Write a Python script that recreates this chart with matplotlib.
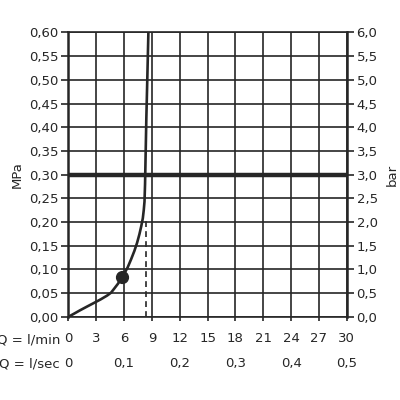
import matplotlib
matplotlib.use("Agg")
from matplotlib import pyplot as plt
from matplotlib import transforms

## Data ##
# flow in l/min and pressure in MPa along the curve
flow_lmin = [0, 0.6, 1.28, 2.0, 2.73, 3.5, 4.19, 4.6, 4.92, 5.35, 5.76, 6.1, 6.38, 6.75, 7.11, 7.4, 7.65, 7.85, 8.02, 8.12, 8.2, 8.26, 8.32, 8.4, 8.5, 8.62]
pressure_mpa = [0, 0.0065, 0.014, 0.0215, 0.029, 0.037, 0.045, 0.051, 0.059, 0.070, 0.083, 0.094, 0.104, 0.121, 0.139, 0.156, 0.174, 0.191, 0.208, 0.225, 0.243, 0.280, 0.340, 0.420, 0.500, 0.600]
# operating point marker
dot_flow = 5.76
dot_pressure = 0.083
# dashed line for the nominal flow
dash_flow = 8.32
dash_top = 0.21
# thick reference line at the rated pressure
ref_pressure = 0.30

lmin_ticks = [0, 3, 6, 9, 12, 15, 18, 21, 24, 27, 30]
lsec_ticks = [0, 0.1, 0.2, 0.3, 0.4, 0.5]
mpa_ticks = [i * 0.05 for i in range(13)]
bar_ticks = [i * 0.5 for i in range(13)]

INK = "#262626"
FS = 9.5

def comma(v, nd):
    return f"{v:.{nd}f}".replace(".", ",")

fig = plt.figure(figsize=(4, 4), dpi=100)
ax = fig.add_axes([0.171, 0.208, 0.696, 0.711])

ax.set_xlim(0, 30)
ax.set_ylim(0, 0.60)

# grid
for x in lmin_ticks:
    ax.axvline(x, color=INK, lw=1.2, zorder=1)
for y in mpa_ticks:
    ax.axhline(y, color=INK, lw=1.2, zorder=1)

ax.axhline(ref_pressure, color=INK, lw=3.2, zorder=2)
ax.plot([dash_flow, dash_flow], [0, dash_top], color=INK, lw=1.2, ls=(0, (3.5, 2.5)), zorder=2)
ax.plot(flow_lmin, pressure_mpa, color=INK, lw=1.9, zorder=3,
        solid_capstyle="round", solid_joinstyle="round")
ax.plot([dot_flow], [dot_pressure], "o", color=INK, ms=8.5, zorder=4)

for s in ax.spines.values():
    s.set_color(INK)
    s.set_linewidth(1.2)
ax.spines["left"].set_linewidth(1.8)
ax.spines["right"].set_linewidth(1.8)

ax.set_yticks(mpa_ticks)
ax.set_yticklabels([comma(v, 2) for v in mpa_ticks], fontsize=FS, color=INK)
ax.set_xticks(lmin_ticks)
ax.set_xticklabels([str(v) for v in lmin_ticks], fontsize=FS, color=INK)
ax.tick_params(axis="y", length=5, width=1.2, color=INK, pad=2)
ax.tick_params(axis="x", length=3, width=1.2, color=INK, pad=8)
ax.set_ylabel("MPa", fontsize=FS, color=INK, labelpad=4)

ax2 = ax.twinx()
ax2.set_ylim(0, 6.0)
ax2.set_yticks(bar_ticks)
ax2.set_yticklabels([comma(v, 1) for v in bar_ticks], fontsize=FS, color=INK)
ax2.tick_params(axis="y", length=5, width=1.2, color=INK, pad=2)
for s in ax2.spines.values():
    s.set_visible(False)
ax2.set_ylabel("bar", fontsize=FS, color=INK, rotation=90, labelpad=6)

# second row of flow labels (l/sec)
trans = transforms.blended_transform_factory(ax.transData, ax.transAxes)
for v in lsec_ticks:
    lab = "0" if v == 0 else comma(v, 1)
    ax.text(v * 60, -0.165, lab, transform=trans, ha="center", va="center", fontsize=FS, color=INK)

ax.text(-0.03, -0.083, "Q = l/min", transform=ax.transAxes, ha="right", va="center", fontsize=FS, color=INK)
ax.text(-0.03, -0.165, "Q = l/sec", transform=ax.transAxes, ha="right", va="center", fontsize=FS, color=INK)

fig.savefig("out.png", dpi=100)
